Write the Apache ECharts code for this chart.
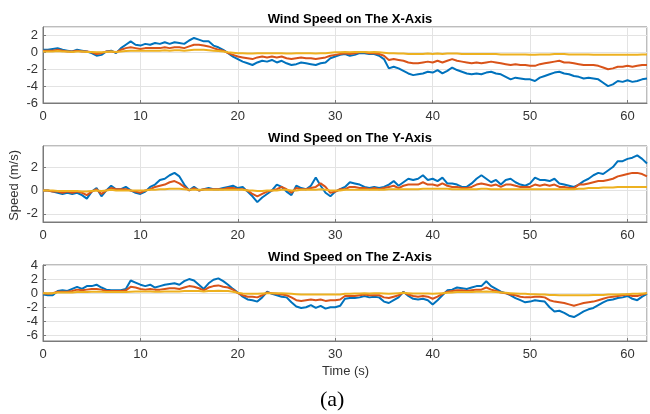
<!DOCTYPE html>
<html>
<head>
<meta charset="utf-8">
<script src="https://cdn.jsdelivr.net/npm/echarts@6/dist/echarts.min.js"></script>
<style>
html,body{margin:0;padding:0;background:#fff;}
#chart{width:650px;height:414px;}
</style>
</head>
<body>
<div id="chart"></div>
<script>
// Sample times (s)
const time = [
 0,0.5,1,1.5,2,2.5,3,3.5,4,4.5,5,5.5,6,6.5,7,7.5,8,8.5,9,9.5,
 10,10.5,11,11.5,12,12.5,13,13.5,14,14.5,15,15.5,16,16.5,17,17.5,18,18.5,19,19.5,
 20,20.5,21,21.5,22,22.5,23,23.5,24,24.5,25,25.5,26,26.5,27,27.5,28,28.5,29,29.5,
 30,30.5,31,31.5,32,32.5,33,33.5,34,34.5,35,35.5,36,36.5,37,37.5,38,38.5,39,39.5,
 40,40.5,41,41.5,42,42.5,43,43.5,44,44.5,45,45.5,46,46.5,47,47.5,48,48.5,49,49.5,
 50,50.5,51,51.5,52,52.5,53,53.5,54,54.5,55,55.5,56,56.5,57,57.5,58,58.5,59,59.5,
 60,60.5,61,61.5,62
];

// X-axis wind speed
const xBlue = [
 0.3,0.3,0.4,0.5,0.3,0.2,0.1,0.3,0.2,0.1,-0.1,-0.4,-0.3,0.1,0.2,-0.1,0.5,0.9,1.3,0.9,
 0.8,1.0,0.9,1.1,1.0,1.2,1.0,1.2,1.1,1.0,1.4,1.7,1.5,1.3,1.3,0.8,0.6,0.3,-0.1,-0.5,
 -0.8,-1.1,-1.3,-1.5,-1.2,-1.0,-1.1,-0.9,-1.2,-1.0,-1.3,-1.5,-1.4,-1.2,-1.3,-1.4,-1.5,-1.3,-1.2,-0.7,
 -0.5,-0.3,-0.2,-0.4,-0.3,-0.1,-0.1,-0.2,-0.2,-0.4,-0.8,-1.9,-1.7,-1.9,-2.2,-2.5,-2.7,-2.6,-2.5,-2.3,
 -2.4,-2.1,-2.5,-2.2,-1.8,-2.1,-2.3,-2.5,-2.6,-2.5,-2.6,-2.4,-2.3,-2.5,-2.6,-2.9,-3.2,-3.0,-3.1,-3.2,
 -3.2,-3.4,-3.0,-2.8,-2.6,-2.4,-2.3,-2.5,-2.6,-2.8,-2.9,-3.1,-3.0,-3.1,-3.2,-3.6,-4.0,-3.8,-3.4,-3.5,
 -3.3,-3.5,-3.4,-3.2,-3.1
];
const xOrange = [
 0.2,0.2,0.2,0.3,0.2,0.1,0.1,0.2,0.1,0.1,0.0,-0.2,-0.1,0.1,0.1,0.0,0.3,0.5,0.6,0.5,
 0.4,0.5,0.5,0.5,0.5,0.6,0.5,0.6,0.6,0.5,0.7,0.9,0.9,0.8,0.7,0.5,0.3,0.2,-0.1,-0.3,
 -0.5,-0.6,-0.7,-0.8,-0.6,-0.5,-0.6,-0.5,-0.6,-0.5,-0.7,-0.8,-0.7,-0.6,-0.7,-0.7,-0.8,-0.7,-0.6,-0.4,
 -0.3,-0.2,-0.1,-0.2,-0.1,0.0,0.0,-0.1,-0.1,-0.2,-0.4,-0.9,-0.8,-0.9,-1.0,-1.2,-1.3,-1.3,-1.2,-1.1,
 -1.2,-1.0,-1.2,-1.0,-0.8,-1.0,-1.1,-1.2,-1.3,-1.2,-1.3,-1.2,-1.1,-1.2,-1.3,-1.4,-1.5,-1.4,-1.5,-1.5,
 -1.6,-1.6,-1.4,-1.3,-1.2,-1.1,-1.0,-1.2,-1.2,-1.3,-1.4,-1.5,-1.5,-1.5,-1.6,-1.8,-2.0,-1.9,-1.7,-1.7,
 -1.6,-1.7,-1.6,-1.5,-1.5
];
const xYellow = [
 0.1,0.1,0.1,0.15,0.1,0.1,0.05,0.1,0.1,0.05,0.05,0.0,0.0,0.05,0.1,0.05,0.1,0.15,0.2,0.2,
 0.2,0.2,0.2,0.2,0.2,0.25,0.2,0.25,0.25,0.2,0.25,0.3,0.3,0.3,0.25,0.2,0.15,0.1,0.0,-0.05,
 -0.1,-0.1,-0.15,-0.15,-0.1,-0.1,-0.1,-0.1,-0.1,-0.1,-0.15,-0.15,-0.1,-0.1,-0.1,-0.1,-0.15,-0.1,-0.1,-0.05,
 0.0,0.0,0.05,0.0,0.05,0.05,0.05,0.0,0.05,0.0,-0.05,-0.1,-0.1,-0.15,-0.15,-0.2,-0.2,-0.2,-0.2,-0.15,
 -0.2,-0.15,-0.2,-0.15,-0.15,-0.15,-0.2,-0.2,-0.2,-0.2,-0.2,-0.2,-0.2,-0.2,-0.25,-0.25,-0.25,-0.25,-0.25,-0.25,
 -0.3,-0.3,-0.25,-0.25,-0.25,-0.2,-0.2,-0.2,-0.25,-0.25,-0.25,-0.25,-0.25,-0.3,-0.3,-0.3,-0.3,-0.3,-0.3,-0.3,
 -0.3,-0.3,-0.3,-0.25,-0.25
];

// Y-axis wind speed
const yBlue = [
 0.0,0.0,-0.1,-0.2,-0.3,-0.2,-0.3,-0.2,-0.4,-0.7,-0.1,0.2,-0.5,0.0,0.4,0.1,0.1,0.3,0.0,-0.2,
 -0.3,-0.1,0.3,0.5,0.9,1.0,1.3,1.5,1.2,0.5,0.0,0.3,0.0,0.1,0.2,0.1,0.1,0.2,0.3,0.4,
 0.2,0.3,-0.1,-0.5,-1.0,-0.6,-0.3,0.0,0.5,0.3,-0.1,-0.4,0.4,0.2,0.1,0.4,1.1,0.4,-0.2,-0.5,
 -0.1,0.1,0.3,0.7,0.6,0.5,0.3,0.2,0.3,0.2,0.3,0.5,0.8,0.4,0.7,1.0,0.9,1.0,1.3,0.9,
 1.0,0.8,1.1,0.6,0.6,0.5,0.3,0.3,0.6,1.0,1.3,1.0,0.7,0.9,0.5,0.9,1.0,0.7,0.5,0.4,
 0.6,1.1,0.9,0.9,0.8,1.0,0.6,0.5,0.4,0.3,0.5,0.8,1.0,1.3,1.5,1.4,1.7,2.0,2.5,2.5,
 2.7,2.8,3.0,2.7,2.3
];
const yOrange = [
 0.0,0.0,-0.1,-0.1,-0.2,-0.1,-0.2,-0.1,-0.2,-0.4,-0.1,0.1,-0.3,0.0,0.2,0.1,0.1,0.1,0.0,-0.1,
 -0.2,0.0,0.1,0.3,0.4,0.5,0.7,0.8,0.6,0.3,0.0,0.2,0.0,0.1,0.1,0.1,0.1,0.1,0.2,0.2,
 0.1,0.1,0.0,-0.3,-0.5,-0.3,-0.1,0.0,0.1,0.3,0.1,-0.2,0.2,0.1,0.1,0.2,0.3,0.6,0.3,-0.2,
 -0.1,0.1,0.1,0.3,0.3,0.2,0.2,0.1,0.2,0.1,0.2,0.3,0.4,0.2,0.4,0.5,0.5,0.5,0.7,0.5,
 0.5,0.4,0.6,0.4,0.3,0.3,0.2,0.2,0.3,0.5,0.6,0.5,0.4,0.5,0.3,0.5,0.5,0.4,0.3,0.3,
 0.3,0.5,0.4,0.5,0.4,0.5,0.3,0.3,0.2,0.2,0.5,0.5,0.6,0.7,0.8,0.8,0.9,1.0,1.2,1.3,
 1.4,1.5,1.5,1.4,1.2
];
const yYellow = [
 0.0,0.0,0.0,-0.05,-0.05,-0.05,-0.05,-0.05,-0.1,-0.1,-0.05,0.0,-0.05,0.0,0.05,0.0,0.0,0.0,0.0,0.0,
 0.0,0.0,0.05,0.05,0.1,0.1,0.15,0.15,0.15,0.1,0.05,0.05,0.05,0.05,0.05,0.05,0.05,0.05,0.05,0.05,
 0.05,0.05,0.0,0.0,-0.05,-0.05,0.0,0.0,0.0,0.05,0.05,0.0,0.0,0.05,0.05,0.05,0.05,0.1,0.05,0.0,
 0.0,0.0,0.05,0.05,0.05,0.05,0.05,0.05,0.05,0.05,0.05,0.1,0.1,0.1,0.1,0.1,0.1,0.1,0.15,0.15,
 0.15,0.15,0.15,0.15,0.1,0.1,0.1,0.1,0.1,0.1,0.15,0.15,0.1,0.1,0.1,0.1,0.1,0.1,0.1,0.1,
 0.1,0.1,0.1,0.1,0.1,0.1,0.1,0.1,0.1,0.1,0.15,0.15,0.2,0.2,0.2,0.25,0.25,0.25,0.3,0.3,
 0.3,0.3,0.3,0.3,0.3
];

// Z-axis wind speed
const zBlue = [
 -0.2,-0.3,-0.3,0.3,0.4,0.3,0.6,0.9,0.6,1.0,1.0,1.2,0.8,0.5,0.4,0.4,0.4,0.6,1.8,1.5,
 1.2,1.0,1.2,0.8,1.0,1.2,1.3,1.4,1.2,1.7,2.0,1.8,1.2,0.6,1.4,1.9,2.1,1.7,1.2,0.6,
 0.1,-0.5,-0.9,-1.0,-1.2,-0.6,0.2,-0.1,-0.3,-0.5,-0.6,-1.3,-1.9,-2.1,-2.0,-1.7,-2.1,-1.8,-2.2,-2.0,
 -2.0,-1.8,-0.8,-0.7,-0.7,-0.6,-0.4,-0.6,-0.5,-0.6,-1.2,-1.4,-1.0,-0.6,0.2,-0.4,-0.8,-0.9,-0.8,-1.0,
 -1.6,-1.0,-0.3,0.4,0.5,0.8,0.7,0.6,0.8,1.0,1.0,1.7,1.0,0.6,0.2,0.0,-0.3,-0.7,-1.0,-1.3,
 -1.2,-1.0,-1.1,-1.2,-2.0,-2.6,-2.5,-2.8,-3.2,-3.4,-3.0,-2.6,-2.3,-2.1,-1.7,-1.3,-1.0,-0.9,-0.7,-0.6,
 -0.4,-0.8,-1.0,-0.5,-0.1
];
const zOrange = [
 0.0,-0.1,0.0,0.2,0.2,0.2,0.3,0.5,0.4,0.5,0.6,0.6,0.5,0.3,0.3,0.3,0.3,0.4,0.9,0.8,
 0.6,0.5,0.6,0.5,0.5,0.6,0.7,0.7,0.6,0.8,1.0,0.9,0.7,0.4,0.8,1.0,1.1,0.9,0.8,0.5,
 0.0,-0.3,-0.5,-0.5,-0.6,-0.3,0.1,0.0,-0.1,-0.2,-0.3,-0.6,-1.0,-1.1,-1.0,-0.9,-1.0,-0.9,-1.1,-1.0,
 -1.0,-0.9,-0.4,-0.4,-0.4,-0.3,-0.2,-0.3,-0.3,-0.3,-0.6,-0.7,-0.5,-0.3,0.1,-0.2,-0.4,-0.5,-0.4,-0.5,
 -0.8,-0.5,-0.1,0.2,0.3,0.4,0.4,0.3,0.4,0.5,0.5,0.8,0.5,0.3,0.1,0.0,-0.2,-0.3,-0.5,-0.6,
 -0.6,-0.5,-0.5,-0.6,-1.0,-1.2,-1.3,-1.4,-1.6,-1.8,-1.6,-1.4,-1.3,-1.2,-1.0,-0.8,-0.6,-0.5,-0.4,-0.3,
 -0.2,-0.4,-0.4,-0.2,0.0
];
const zYellow = [
 0.0,0.0,0.0,0.1,0.1,0.1,0.1,0.15,0.15,0.15,0.2,0.2,0.2,0.15,0.15,0.15,0.15,0.15,0.2,0.25,
 0.25,0.25,0.25,0.2,0.2,0.25,0.25,0.25,0.25,0.3,0.3,0.3,0.3,0.25,0.3,0.3,0.35,0.3,0.3,0.2,
 0.05,-0.05,-0.1,-0.1,-0.1,-0.05,0.0,0.0,0.0,0.0,-0.05,-0.1,-0.15,-0.2,-0.2,-0.2,-0.2,-0.2,-0.2,-0.2,
 -0.2,-0.2,-0.1,-0.1,-0.05,-0.05,0.0,-0.05,0.0,0.0,-0.05,-0.1,-0.05,0.0,0.05,0.0,-0.05,-0.05,-0.05,-0.05,
 -0.1,-0.05,0.0,0.05,0.1,0.15,0.15,0.15,0.15,0.2,0.2,0.25,0.2,0.15,0.1,0.05,0.0,-0.05,-0.1,-0.1,
 -0.15,-0.15,-0.2,-0.2,-0.25,-0.25,-0.3,-0.3,-0.3,-0.3,-0.3,-0.3,-0.3,-0.25,-0.25,-0.25,-0.2,-0.2,-0.2,-0.15,
 -0.15,-0.1,-0.1,-0.05,0.0
];

const panelTitles = ['Wind Speed on The X-Axis','Wind Speed on The Y-Axis','Wind Speed on The Z-Axis'];
const xTicks = [0,10,20,30,40,50,60];
const panels = [[xBlue,xOrange,xYellow],[yBlue,yOrange,yYellow],[zBlue,zOrange,zYellow]];
const colors = ['#0072BD','#D95319','#EDB120'];

const FONT = '"Liberation Sans", Arial, Helvetica, sans-serif';
const tops = [27,146,265];
const yCfg = [
  {min:-6, max:3, interval:2},
  {min:-2.7, max:3.8, splitNumber:3},
  {min:-6.8, max:4, splitNumber:5}
];

const grids = tops.map(t => ({left:43, right:3, top:t, height:76, show:true, borderColor:'#7a7a7a', borderWidth:1, backgroundColor:'#fff'}));
const xAxes = tops.map((t,i) => ({
  type:'value', gridIndex:i, min:0, max:62, interval:10,
  axisLine:{show:true, onZero:false, lineStyle:{color:'#7a7a7a'}},
  axisTick:{show:true, inside:true, length:3, lineStyle:{color:'#7a7a7a'}},
  axisLabel:{color:'#333', fontSize:13, fontFamily:FONT, margin:7, showMaxLabel:false,
    formatter: v => xTicks.indexOf(v) >= 0 ? String(v) : ''},
  splitLine:{show:true, lineStyle:{color:'#e3e3e3', width:1}}
}));
const yAxes = yCfg.map((c,i) => Object.assign({
  type:'value', gridIndex:i,
  axisLine:{show:true, onZero:false, lineStyle:{color:'#7a7a7a'}},
  axisTick:{show:true, inside:true, length:3, lineStyle:{color:'#7a7a7a'}},
  axisLabel:{color:'#333', fontSize:13, fontFamily:FONT, margin:5, showMinLabel: i===0, showMaxLabel: i===2},
  splitLine:{show:true, lineStyle:{color:'#e3e3e3', width:1}}
}, c));

const series = [];
panels.forEach((arrs, p) => {
  arrs.forEach((vals, k) => {
    series.push({
      type:'line', xAxisIndex:p, yAxisIndex:p, showSymbol:false, symbol:'none',
      data: time.map((t,j) => [t, vals[j]]),
      lineStyle:{color:colors[k], width:2}, itemStyle:{color:colors[k]},
      z: 2 + k, animation:false
    });
  });
});

const titles = panelTitles.map((txt,i) => ({
  text: txt, left: 345, top: tops[i] - 19, textAlign:'center',
  textStyle:{fontSize:13, fontWeight:'bold', color:'#000', fontFamily:FONT}
}));

const chart = echarts.init(document.getElementById('chart'), null, {renderer:'canvas'});
chart.setOption({
  backgroundColor:'#fff',
  animation:false,
  title: titles,
  grid: grids,
  xAxis: xAxes,
  yAxis: yAxes,
  series: series,
  graphic: [
    {type:'text', left:8, top:150, rotation:Math.PI/2, style:{text:'Speed (m/s)', fill:'#333', font:'13px ' + FONT}},
    {type:'text', left:322, top:365, style:{text:'Time (s)', fill:'#333', font:'13px ' + FONT}},
    {type:'text', left:320, top:389, style:{text:'(a)', fill:'#000', font:'22px "Liberation Serif", "Times New Roman", serif'}}
  ]
});
</script>
</body>
</html>
